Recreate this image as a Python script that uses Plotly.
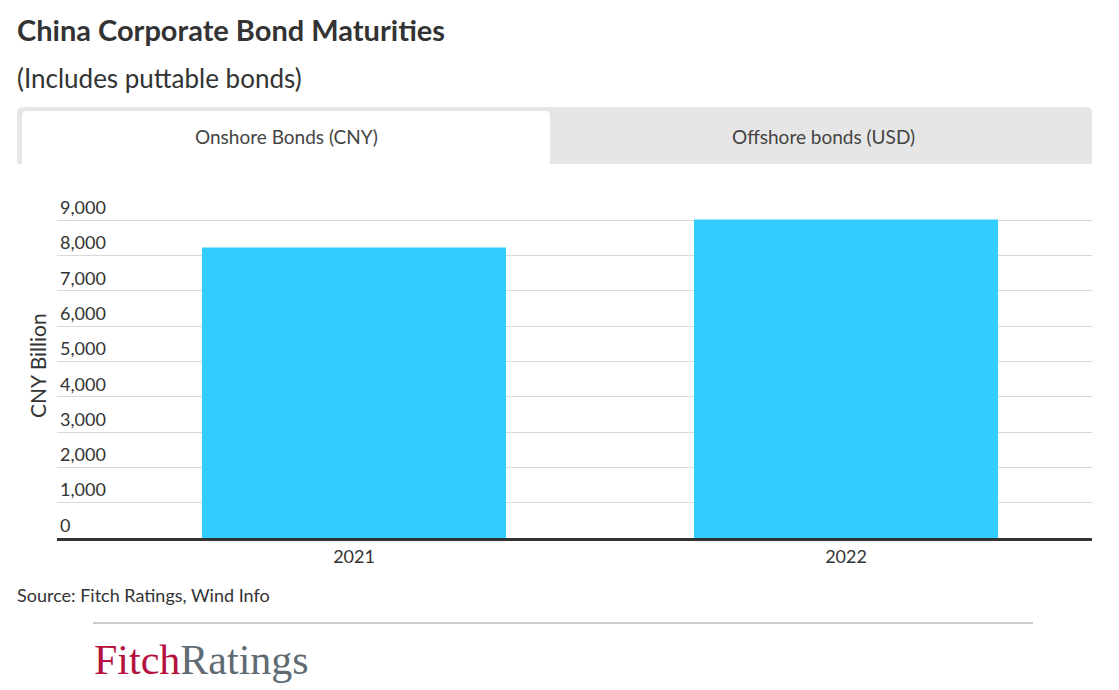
import plotly.graph_objects as go

# ---- data ----
years = ["2021", "2022"]
maturities_cny_bn = [8230, 9020]
y_ticks = [0, 1000, 2000, 3000, 4000, 5000, 6000, 7000, 8000, 9000]
y_ticklabels = [f"{v:,}" for v in y_ticks]

W, H = 1119, 690
OFF = 8  # page offset of the figure inside the browser window
# plot area in window pixels: x 57..1092, y 192..538
PL, PR, PT, PB = 57, 1092, 192, 538
L = PL - OFF
R = W - (PR - OFF)
T = PT - OFF
B = H - (PB - OFF)
PW, PH = W - L - R, H - T - B


def px(x):
    return (x - OFF - L) / PW


def py(y):
    return (H - B - (y - OFF)) / PH


def rounded_top(x0, y0, x1, y1, r):
    X0, X1 = px(x0), px(x1)
    Y0, Y1 = py(y0), py(y1)
    rx, ry = r / PW, r / PH
    return (f"M{X0},{Y1} L{X0},{Y0 - ry} Q{X0},{Y0} {X0 + rx},{Y0} "
            f"L{X1 - rx},{Y0} Q{X1},{Y0} {X1},{Y0 - ry} L{X1},{Y1} Z")


fig = go.Figure()
fig.add_trace(go.Bar(
    x=years, y=maturities_cny_bn, width=0.618,
    marker=dict(color="#33ccff", line=dict(width=0)),
    hoverinfo="x+y",
))

font = "Lato, 'Open Sans', sans-serif"

shapes = [
    dict(type="path", xref="paper", yref="paper",
         path=rounded_top(17, 107, 1092, 164, 6),
         fillcolor="#e6e6e6", line=dict(width=0), layer="below"),
    dict(type="path", xref="paper", yref="paper",
         path=rounded_top(22, 111, 550, 164, 5),
         fillcolor="#ffffff", line=dict(width=0), layer="below"),
    dict(type="line", xref="paper", yref="paper",
         x0=px(93), x1=px(1033), y0=py(623), y1=py(623),
         line=dict(color="#cccccc", width=2)),
]

annotations = [
    dict(text="<b>China Corporate Bond Maturities</b>", x=px(15), y=py(29),
         xref="paper", yref="paper", xanchor="left", yanchor="middle",
         showarrow=False, font=dict(family=font, size=29, color="#333333")),
    dict(text="(Includes puttable bonds)", x=px(15), y=py(78),
         xref="paper", yref="paper", xanchor="left", yanchor="middle",
         showarrow=False, font=dict(family=font, size=26, color="#333333")),
    dict(text="Onshore Bonds (CNY)", x=px(286), y=py(136),
         xref="paper", yref="paper", xanchor="center", yanchor="middle",
         showarrow=False, font=dict(family=font, size=19, color="#444444")),
    dict(text="Offshore bonds (USD)", x=px(823), y=py(136),
         xref="paper", yref="paper", xanchor="center", yanchor="middle",
         showarrow=False, font=dict(family=font, size=19, color="#444444")),
    dict(text="CNY Billion", x=px(37), y=py(366), textangle=-90,
         xref="paper", yref="paper", xanchor="center", yanchor="middle",
         showarrow=False, font=dict(family=font, size=21, color="#333333")),
    dict(text="Source: Fitch Ratings, Wind Info", x=px(15), y=py(595),
         xref="paper", yref="paper", xanchor="left", yanchor="middle",
         showarrow=False, font=dict(family=font, size=18, color="#333333")),
    dict(text="<span style='color:#b5123e'>Fitch</span><span style='color:#5f6b73'>Ratings</span>",
         x=px(92), y=py(660),
         xref="paper", yref="paper", xanchor="left", yanchor="middle",
         showarrow=False,
         font=dict(family="'Liberation Serif', 'DejaVu Serif', serif", size=42)),
]

# x range so that category centres land at x=354 and x=846 (window px)
unit = 492.0
x_lo = -(354 - PL) / unit
x_hi = 1 + (PR - 846) / unit
y_hi = (PB - PT) / 35.3 * 1000

fig.update_layout(
    width=W, height=H,
    margin=dict(l=L, r=R, t=T, b=B, pad=0),
    paper_bgcolor="white", plot_bgcolor="white",
    showlegend=False,
    shapes=shapes, annotations=annotations,
    font=dict(family=font, color="#333333"),
    xaxis=dict(
        type="category", range=[x_lo, x_hi],
        showline=True, linecolor="#333333", linewidth=3,
        showgrid=False, ticks="", tickfont=dict(size=18, color="#333333"),
        fixedrange=True,
    ),
    yaxis=dict(
        range=[0, y_hi], tickvals=y_ticks, ticktext=y_ticklabels,
        showgrid=True, gridcolor="#d9d9d9", gridwidth=1,
        zeroline=False, showline=False, ticks="",
        ticklabelposition="inside top",
        tickfont=dict(size=18, color="#333333"),
        fixedrange=True,
    ),
)

fig.write_html("out.html")
